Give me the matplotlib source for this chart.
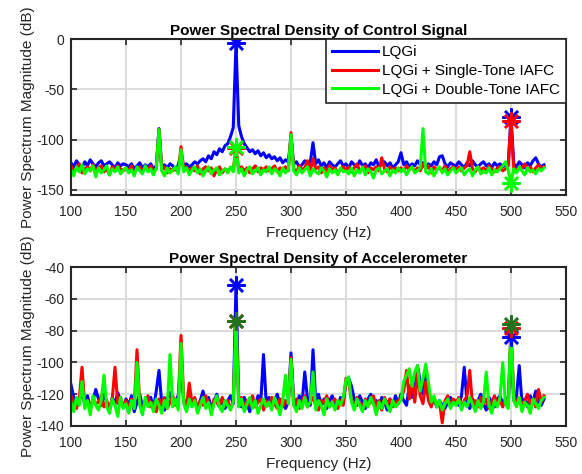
import numpy as np
import matplotlib
matplotlib.use("Agg")
import matplotlib.pyplot as plt

plt.rcParams['font.family'] = ['Liberation Sans', 'DejaVu Sans']
plt.rcParams['axes.unicode_minus'] = False

# Spectrum estimates on a 2.5 Hz grid; each row spans 50 Hz starting at 100 + 50*k
ctrl_lqgi = [
    [-123,-127,-121,-125,-128,-122,-126,-120,-124,-127,-123,-121,-126,-124,-122,-125,-128,-123,-126,-124],
    [-125,-127,-124,-129,-126,-123,-128,-125,-127,-124,-129,-126,-89,-127,-125,-128,-124,-126,-130,-125],
    [-115,-126,-124,-127,-125,-122,-124,-121,-119,-122,-116,-119,-112,-115,-109,-112,-106,-104,-97,-88],
    [-4,-86,-97,-104,-108,-112,-110,-114,-111,-116,-113,-118,-115,-119,-117,-121,-118,-123,-120,-122],
    [-98,-124,-122,-127,-125,-121,-126,-123,-103,-124,-120,-126,-123,-128,-122,-125,-127,-124,-121,-126],
    [-124,-128,-122,-125,-127,-121,-126,-124,-128,-123,-125,-120,-127,-124,-122,-126,-123,-128,-125,-122],
    [-113,-125,-122,-127,-124,-126,-121,-125,-123,-128,-124,-126,-122,-125,-117,-116,-124,-127,-123,-125],
    [-126,-122,-125,-128,-123,-126,-121,-125,-127,-124,-122,-126,-124,-128,-123,-126,-124,-127,-125,-124],
    [-77,-124,-127,-122,-125,-128,-123,-126,-121,-118,-124,-127,-125],
]
ctrl_single = [
    [-126,-131,-128,-124,-133,-129,-127,-131,-125,-130,-128,-126,-132,-129,-135,-127,-130,-126,-129,-131],
    [-128,-131,-126,-133,-129,-127,-131,-128,-130,-126,-132,-129,-90,-130,-127,-133,-129,-131,-128,-132],
    [-107,-130,-127,-132,-128,-131,-126,-134,-129,-127,-131,-128,-136,-130,-127,-133,-129,-131,-128,-130],
    [-108,-130,-127,-131,-128,-133,-129,-126,-132,-128,-130,-127,-131,-129,-126,-132,-128,-130,-127,-131],
    [-93,-129,-132,-126,-130,-128,-121,-131,-119,-129,-127,-133,-128,-131,-126,-130,-128,-134,-129,-127],
    [-130,-127,-132,-128,-124,-131,-129,-126,-133,-128,-130,-127,-131,-118,-129,-132,-127,-130,-128,-131],
    [-128,-131,-126,-130,-127,-132,-128,-131,-124,-129,-126,-133,-127,-130,-128,-131,-126,-132,-129,-127],
    [-130,-127,-131,-128,-126,-112,-129,-132,-127,-130,-128,-131,-126,-129,-132,-128,-127,-131,-129,-126],
    [-81,-128,-131,-127,-129,-124,-130,-127,-132,-128,-125,-129,-127],
]
ctrl_double = [
    [-130,-136,-127,-132,-125,-134,-129,-131,-126,-137,-128,-133,-130,-126,-135,-129,-132,-127,-134,-130],
    [-128,-133,-130,-136,-127,-131,-134,-126,-132,-129,-135,-128,-90,-131,-136,-128,-133,-130,-127,-134],
    [-110,-132,-128,-135,-130,-127,-133,-129,-136,-131,-127,-134,-130,-128,-135,-131,-129,-133,-127,-132],
    [-107,-133,-129,-136,-130,-127,-134,-131,-128,-135,-130,-132,-127,-134,-129,-131,-136,-128,-133,-130],
    [-95,-131,-135,-128,-133,-130,-127,-136,-129,-132,-134,-128,-131,-137,-129,-133,-130,-135,-128,-132],
    [-131,-134,-128,-136,-130,-133,-127,-135,-129,-132,-138,-130,-128,-134,-131,-129,-136,-130,-133,-128],
    [-132,-129,-135,-130,-127,-133,-131,-128,-89,-132,-134,-129,-136,-130,-127,-133,-129,-135,-131,-128],
    [-133,-130,-128,-135,-131,-129,-136,-130,-127,-134,-131,-133,-128,-135,-130,-132,-129,-126,-122,-131],
    [-143,-129,-133,-127,-131,-135,-128,-132,-130,-134,-129,-131,-128],
]

acc_lqgi = [
    [-114,-122,-128,-124,-119,-126,-121,-129,-124,-117,-123,-127,-120,-125,-130,-122,-126,-119,-124,-128],
    [-123,-127,-121,-131,-125,-120,-128,-124,-126,-122,-129,-118,-105,-126,-130,-123,-119,-127,-124,-121],
    [-100,-125,-129,-121,-127,-123,-130,-124,-118,-126,-122,-128,-125,-120,-127,-123,-129,-124,-121,-126],
    [-51,-124,-128,-122,-126,-131,-123,-127,-121,-125,-95,-126,-122,-128,-124,-120,-127,-123,-129,-125],
    [-94,-124,-128,-121,-126,-106,-123,-127,-92,-125,-120,-127,-123,-129,-124,-121,-126,-128,-122,-125],
    [-112,-110,-115,-123,-127,-121,-125,-129,-123,-120,-126,-124,-128,-122,-125,-130,-123,-127,-121,-126],
    [-120,-124,-127,-115,-122,-118,-102,-112,-120,-108,-121,-126,-123,-128,-124,-127,-129,-125,-122,-126],
    [-124,-127,-121,-103,-125,-129,-123,-127,-124,-120,-126,-130,-122,-125,-128,-123,-121,-126,-124,-127],
    [-84,-124,-121,-102,-126,-123,-128,-121,-125,-118,-124,-127,-123],
]
acc_single = [
    [-121,-126,-129,-123,-103,-127,-124,-130,-122,-126,-125,-121,-128,-124,-130,-123,-103,-126,-122,-128],
    [-124,-129,-123,-127,-92,-126,-130,-124,-121,-128,-125,-131,-123,-127,-122,-129,-125,-121,-127,-124],
    [-83,-123,-128,-113,-126,-122,-129,-124,-127,-121,-126,-130,-123,-125,-128,-122,-127,-124,-129,-125],
    [-74,-126,-122,-129,-124,-127,-121,-128,-125,-123,-130,-124,-127,-122,-126,-129,-123,-128,-124,-126],
    [-97,-127,-123,-129,-124,-121,-128,-125,-122,-127,-130,-124,-126,-121,-128,-125,-123,-129,-124,-127],
    [-110,-113,-124,-128,-122,-126,-129,-123,-127,-125,-121,-128,-124,-130,-122,-126,-123,-128,-125,-124],
    [-122,-118,-105,-123,-110,-125,-107,-121,-126,-112,-124,-128,-122,-127,-125,-138,-124,-121,-128,-123],
    [-126,-122,-129,-124,-121,-105,-127,-124,-128,-122,-126,-123,-129,-125,-121,-127,-124,-128,-122,-125],
    [-78,-121,-125,-122,-127,-124,-120,-126,-123,-128,-117,-125,-121],
]
acc_double = [
    [-125,-131,-122,-127,-112,-129,-124,-133,-121,-127,-130,-124,-108,-128,-132,-123,-127,-134,-122,-129],
    [-126,-132,-124,-129,-100,-127,-133,-122,-128,-125,-131,-123,-127,-132,-124,-129,-95,-128,-123,-130],
    [-88,-126,-131,-123,-128,-124,-132,-127,-122,-129,-125,-133,-126,-121,-128,-131,-124,-127,-130,-125],
    [-74,-128,-123,-131,-126,-122,-129,-124,-132,-127,-123,-128,-125,-130,-122,-127,-133,-124,-108,-126],
    [-98,-127,-131,-124,-129,-122,-128,-125,-106,-130,-124,-127,-133,-123,-128,-125,-130,-124,-127,-122],
    [-111,-109,-125,-130,-123,-127,-131,-124,-128,-122,-126,-133,-125,-129,-123,-127,-131,-124,-128,-126],
    [-124,-112,-108,-104,-115,-106,-102,-118,-110,-101,-113,-125,-121,-128,-124,-130,-126,-123,-129,-125],
    [-127,-123,-130,-125,-128,-122,-126,-131,-124,-129,-125,-106,-127,-132,-124,-128,-122,-100,-126,-129],
    [-76,-124,-128,-122,-131,-125,-127,-132,-123,-126,-129,-124,-122],
]

series_names = ['LQGi', 'LQGi + Single-Tone IAFC', 'LQGi + Double-Tone IAFC']
tone_freqs = [250, 500]
x_ticks = [100, 150, 200, 250, 300, 350, 400, 450, 500, 550]


def unpack(rows, start=100.0, span=50.0, step=2.5):
    f, v = [], []
    for k, row in enumerate(rows):
        for j, val in enumerate(row):
            f.append(start + span * k + step * j)
            v.append(val)
    return np.array(f), np.array(v, dtype=float)


BLUE, RED, GREEN = (0, 0, 1), (1, 0, 0), (0, 1, 0)
DARK_GREEN = (0.12, 0.45, 0.1)
ASTER = (8, 2, 0)
INK = '#262626'

fig = plt.figure(figsize=(5.82, 4.74), dpi=100)
ax1 = fig.add_axes([0.122, 0.5886, 0.8505, 0.329])
ax2 = fig.add_axes([0.122, 0.1013, 0.8505, 0.335])


def style(ax, ylim, yticks, title):
    ax.set_xlim(100, 550)
    ax.set_ylim(*ylim)
    ax.set_xticks(x_ticks)
    ax.set_yticks(yticks)
    ax.grid(True, color='#dcdcdc', linewidth=1.5)
    ax.set_axisbelow(True)
    ax.tick_params(direction='in', top=True, right=True, length=4, width=1.2,
                   labelsize=10, colors=INK)
    ax.tick_params(axis='x', pad=7.5)
    ax.tick_params(axis='y', pad=5)
    for s in ax.spines.values():
        s.set_linewidth(1.5)
        s.set_color(INK)
    ax.set_title(title, fontsize=11, fontweight='bold', pad=3)
    ax.set_xlabel('Frequency (Hz)', fontsize=11, color=INK, labelpad=5)
    ax.set_ylabel('Power Spectrum Magnitude (dB)', fontsize=11, color=INK, labelpad=1)


def draw(ax, data, mark_colors):
    lines = []
    for rows, color, name in zip(data, (BLUE, RED, GREEN), series_names):
        f, v = unpack(rows)
        ln, = ax.plot(f, v, color=color, linewidth=2.2, label=name)
        lines.append(ln)
    for rows, mc in zip(data, mark_colors):
        f, v = unpack(rows)
        mv = [v[np.argmin(np.abs(f - ff))] for ff in tone_freqs]
        ax.plot(tone_freqs, mv, linestyle='none', marker=ASTER, markersize=13,
                markeredgewidth=1.8, color=mc)
    return lines


lines = draw(ax1, [ctrl_lqgi, ctrl_single, ctrl_double], [BLUE, RED, GREEN])
style(ax1, (-155, 0), [-150, -100, -50, 0], 'Power Spectral Density of Control Signal')
leg = ax1.legend(handles=lines, loc='upper right', fontsize=11, frameon=True, fancybox=False,
                 edgecolor=INK, borderaxespad=0.0, handlelength=3.0,
                 handletextpad=0.25, labelspacing=0.3, borderpad=0.42)
leg.get_frame().set_linewidth(1.2)
leg.get_frame().set_alpha(1.0)

draw(ax2, [acc_lqgi, acc_single, acc_double], [BLUE, RED, DARK_GREEN])
style(ax2, (-140, -40), [-140, -120, -100, -80, -60, -40], 'Power Spectral Density of Accelerometer')

fig.savefig('out.png', dpi=100)
